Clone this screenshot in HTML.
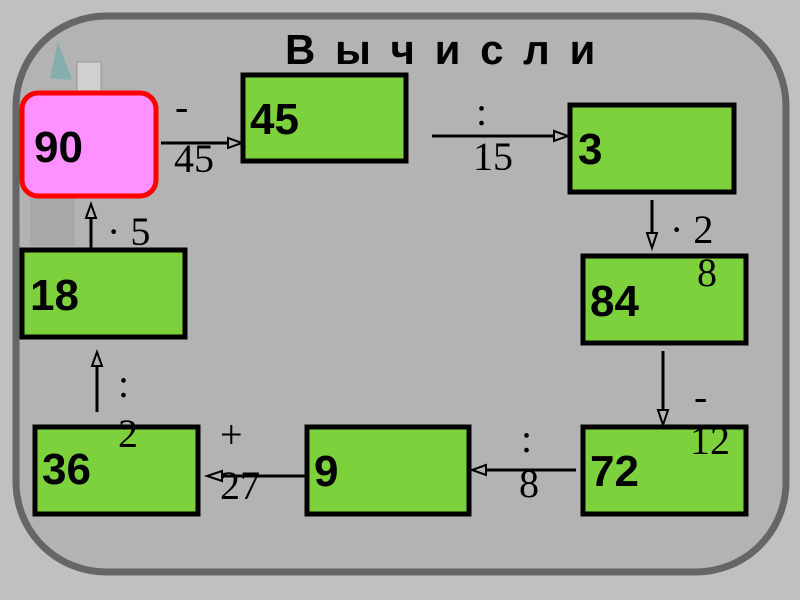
<!DOCTYPE html>
<html><head><meta charset="utf-8"><style>
html,body{margin:0;padding:0;background:#c0c0c0;}
svg{display:block}
.n{font-family:"Liberation Sans",sans-serif;font-weight:bold;font-size:44px;fill:#000}
.l{font-family:"Liberation Serif",serif;font-size:40px;fill:#000}
.t{font-family:"Liberation Sans","DejaVu Sans",sans-serif;font-weight:bold;font-size:42px;fill:#000}
</style></head><body>
<svg width="800" height="600" xmlns="http://www.w3.org/2000/svg">
<rect x="0" y="0" width="800" height="600" fill="#c0c0c0"/>
<rect x="16" y="16" width="770" height="556" rx="90" ry="90" fill="#b3b3b3" stroke="#666" stroke-width="7"/>
<polygon points="50,78 58,42 72,80" fill="#6aa" opacity="0.6"/>
<rect x="77" y="62" width="24" height="30" fill="#d0d0d0" stroke="#999"/>
<rect x="30" y="198" width="45" height="48" fill="#a8a8a8"/>
<text x="285" y="64" class="t" letter-spacing="4">В ы ч и с л и</text>
<g stroke="#000" stroke-width="5" fill="#7dd13d">
<rect x="243" y="75" width="163" height="86"/>
<rect x="570" y="105" width="164" height="87"/>
<rect x="583" y="256" width="163" height="87"/>
<rect x="583" y="427" width="163" height="87"/>
<rect x="307" y="427" width="162" height="87"/>
<rect x="35" y="427" width="163" height="87"/>
<rect x="22" y="250" width="163" height="87"/>
</g>
<rect x="22" y="93" width="134" height="103" rx="16" fill="#ff90ff" stroke="#f00" stroke-width="5"/>
<g class="n">
<text x="34" y="162">90</text>
<text x="250" y="134">45</text>
<text x="578" y="164">3</text>
<text x="590" y="316">84</text>
<text x="590" y="486">72</text>
<text x="314" y="486">9</text>
<text x="42" y="484">36</text>
<text x="30" y="310">18</text>
</g>
<g stroke="#000" stroke-width="3" fill="none">
<line x1="161" y1="143" x2="233" y2="143"/>
<line x1="432" y1="136" x2="558" y2="136"/>
<line x1="652" y1="200" x2="652" y2="238"/>
<line x1="663" y1="351" x2="663" y2="414"/>
<line x1="576" y1="470" x2="482" y2="470"/>
<line x1="305" y1="476" x2="218" y2="476"/>
<line x1="97" y1="412" x2="97" y2="362"/>
<line x1="91" y1="248" x2="91" y2="215"/>
</g>
<g stroke="#000" stroke-width="2" fill="#b3b3b3">
<polygon points="228,138 242,143 228,148"/>
<polygon points="554,131 568,136 554,141"/>
<polygon points="647,233 652,248 657,233"/>
<polygon points="658,410 663,425 668,410"/>
<polygon points="486,465 472,470 486,475"/>
<polygon points="222,471 207,476 222,481"/>
<polygon points="92,366 97,352 102,366"/>
<polygon points="86,218 91,204 96,218"/>
</g>
<g class="l">
<text x="175" y="120">-</text>
<text x="174" y="172">45</text>
<text x="476" y="125">:</text>
<text x="473" y="170">15</text>
<text x="670" y="243">· 2</text>
<text x="697" y="286">8</text>
<text x="694" y="410">-</text>
<text x="690" y="454">12</text>
<text x="521" y="452">:</text>
<text x="519" y="497">8</text>
<text x="220" y="448">+</text>
<text x="220" y="499">27</text>
<text x="118" y="397">:</text>
<text x="118" y="447">2</text>
<text x="107" y="245">· 5</text>
</g>
</svg>
</body></html>
